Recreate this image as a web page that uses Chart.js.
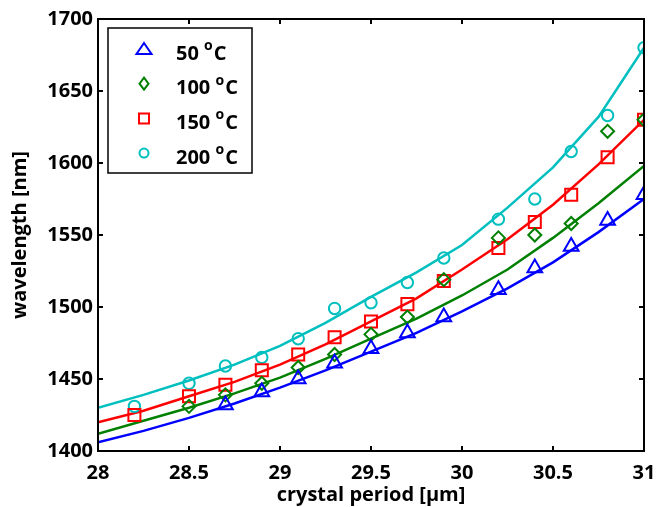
<!DOCTYPE html>
<html>
<head>
<meta charset="utf-8">
<script src="https://cdn.jsdelivr.net/npm/chart.js@4"></script>
<style>
  html, body { margin: 0; padding: 0; background: #fff; }
  #wrap { width: 658px; height: 507px; position: relative; }
</style>
</head>
<body>
<div id="wrap"><canvas id="c" width="658" height="507"></canvas></div>
<script>
// ---- data ----
const periods = [28.2, 28.5, 28.7, 28.9, 29.1, 29.3, 29.5, 29.7, 29.9, 30.2, 30.4, 30.6, 30.8, 31.0];
const meas50  = [null, null, 1432, 1441, 1450, 1461, 1471, 1482, 1493, 1512, 1527, 1542, 1560, 1578];
const meas100 = [null, 1431, 1439, 1447, 1458, 1467, 1481, 1493, 1519, 1548, 1550, 1558, 1622, 1630];
const meas150 = [1425, 1438, 1446, 1456, 1467, 1479, 1490, 1502, 1518, 1541, 1559, 1578, 1604, 1630];
const meas200 = [1431, 1447, 1459, 1465, 1478, 1499, 1503, 1517, 1534, 1561, 1575, 1608, 1633, 1680];

const fitPeriods = [28, 28.25, 28.5, 28.75, 29, 29.25, 29.5, 29.75, 30, 30.25, 30.5, 30.75, 31];
const fit50  = [1406, 1414, 1423, 1433, 1444, 1456, 1469, 1482, 1497, 1513, 1531, 1552, 1575];
const fit100 = [1412, 1421, 1430, 1440, 1451, 1464, 1478, 1492, 1508, 1526, 1548, 1572, 1598];
const fit150 = [1420, 1428, 1438, 1448, 1460, 1474, 1490, 1506, 1526, 1547, 1571, 1599, 1630];
const fit200 = [1430, 1439, 1449, 1460, 1473, 1489, 1507, 1524, 1543, 1569, 1597, 1632, 1680];

const seriesNames = ['50', '100', '150', '200'];
const xTicks = [28, 28.5, 29, 29.5, 30, 30.5, 31];
const yTicks = [1400, 1450, 1500, 1550, 1600, 1650, 1700];

// ---- styles ----
const colors = ['#0000ff', '#008000', '#ff0000', '#00bfbf'];
const styles = ['triangle', 'rectRot', 'rect', 'circle'];
const radii = [8.5, 6.5, 8.5, 5.7];
const FONT = "'Open Sans', 'Noto Sans', sans-serif";

const pts = (xs, ys) => xs.map((x, i) => ({x: x, y: ys[i]})).filter(p => p.y !== null);
const meas = [meas50, meas100, meas150, meas200];
const fits = [fit50, fit100, fit150, fit200];

const datasets = [];
for (let i = 0; i < 4; i++) {
  datasets.push({
    type: 'line', label: 'fit ' + seriesNames[i], data: pts(fitPeriods, fits[i]),
    borderColor: colors[i], borderWidth: 2.5, pointRadius: 0, tension: 0, fill: false, order: 2
  });
}
for (let i = 0; i < 4; i++) {
  datasets.push({
    type: 'line', label: seriesNames[i] + ' °C', data: pts(periods, meas[i]),
    showLine: false, borderColor: colors[i], backgroundColor: 'rgba(0,0,0,0)',
    pointStyle: styles[i], pointRadius: radii[i], pointBorderWidth: 2,
    pointBorderColor: colors[i], pointBackgroundColor: 'rgba(0,0,0,0)', order: 1
  });
}

const frame = {
  id: 'frame',
  afterDraw(chart) {
    const ctx = chart.ctx, a = chart.chartArea;
    const xs = chart.scales.x, ys = chart.scales.y;
    ctx.save();
    ctx.strokeStyle = '#000';
    ctx.lineWidth = 2;
    ctx.strokeRect(a.left, a.top, a.right - a.left, a.bottom - a.top);
    const L = 5;
    ctx.beginPath();
    xTicks.forEach(v => {
      const px = xs.getPixelForValue(v);
      ctx.moveTo(px, a.bottom); ctx.lineTo(px, a.bottom - L);
      ctx.moveTo(px, a.top); ctx.lineTo(px, a.top + L);
    });
    yTicks.forEach(v => {
      const py = ys.getPixelForValue(v);
      ctx.moveTo(a.left, py); ctx.lineTo(a.left + L, py);
      ctx.moveTo(a.right, py); ctx.lineTo(a.right - L, py);
    });
    ctx.stroke();

    // legend
    const bx = 108, by = 28, bw = 144, bh = 145;
    ctx.fillStyle = '#fff';
    ctx.fillRect(bx, by, bw, bh);
    ctx.lineWidth = 1.5;
    ctx.strokeRect(bx, by, bw, bh);
    for (let i = 0; i < 4; i++) {
      const my = 49 + i * 34.7, mx = 144;
      ctx.strokeStyle = colors[i];
      ctx.lineWidth = 2;
      ctx.beginPath();
      if (i === 0) {
        ctx.moveTo(mx, my - 6); ctx.lineTo(mx + 7.5, my + 5); ctx.lineTo(mx - 7.5, my + 5); ctx.closePath();
      } else if (i === 1) {
        ctx.moveTo(mx, my - 6); ctx.lineTo(mx + 4.5, my); ctx.lineTo(mx, my + 6); ctx.lineTo(mx - 4.5, my); ctx.closePath();
      } else if (i === 2) {
        ctx.rect(mx - 5, my - 5, 10, 10);
      } else {
        ctx.arc(mx, my, 4.5, 0, Math.PI * 2);
      }
      ctx.stroke();
      const ty = my + 5;
      ctx.fillStyle = '#000';
      ctx.textBaseline = 'middle';
      ctx.textAlign = 'left';
      ctx.font = 'bold 20px ' + FONT;
      const num = seriesNames[i] + ' ';
      ctx.fillText(num, 176, ty);
      let x = 176 + ctx.measureText(num).width;
      ctx.font = 'bold 14px ' + FONT;
      ctx.fillText('o', x, ty - 8);
      x += ctx.measureText('o').width + 1;
      ctx.font = 'bold 20px ' + FONT;
      ctx.fillText('C', x, ty);
    }
    ctx.restore();
  }
};

new Chart(document.getElementById('c'), {
  data: { datasets: datasets },
  options: {
    responsive: false,
    animation: false,
    devicePixelRatio: 1,
    layout: { padding: { top: 19, right: 14, left: 0, bottom: 0 }, autoPadding: false },
    plugins: { legend: { display: false }, tooltip: { enabled: false } },
    scales: {
      x: {
        type: 'linear', min: 28, max: 31,
        afterBuildTicks: s => { s.ticks = xTicks.map(v => ({value: v})); },
        afterFit: s => { s.height = 56; s.paddingLeft = 0; s.paddingRight = 0; },
        grid: { display: false, drawTicks: false },
        border: { display: true, color: '#000', width: 2 },
        ticks: { color: '#000', padding: 10, font: { family: FONT, size: 20, weight: 'bold' },
                 callback: v => String(v), maxRotation: 0, autoSkip: false },
        title: { display: true, text: 'crystal period [µm]', color: '#000',
                 font: { family: FONT, size: 20, weight: 'bold', lineHeight: 1.2 }, padding: { top: 0, bottom: 0 } }
      },
      y: {
        type: 'linear', min: 1400, max: 1700,
        afterBuildTicks: s => { s.ticks = yTicks.map(v => ({value: v})); },
        afterFit: s => { s.width = 98; s.paddingTop = 0; s.paddingBottom = 0; },
        grid: { display: false, drawTicks: false },
        border: { display: true, color: '#000', width: 2 },
        ticks: { color: '#000', padding: 5, font: { family: FONT, size: 20, weight: 'bold' },
                 callback: v => String(v), autoSkip: false },
        title: { display: true, text: 'wavelength [nm]', color: '#000',
                 font: { family: FONT, size: 20, weight: 'bold', lineHeight: 1.2 }, padding: { top: 8, bottom: 0 } }
      }
    }
  },
  plugins: [frame]
});
</script>
</body>
</html>
